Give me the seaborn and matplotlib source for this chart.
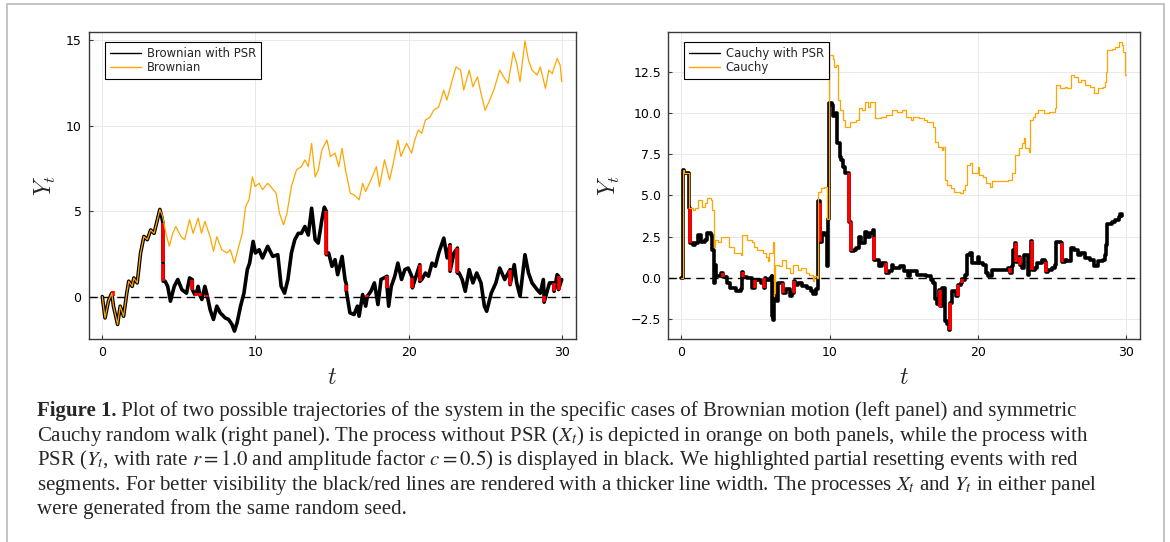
import matplotlib
matplotlib.use("Agg")
import matplotlib.pyplot as plt
import seaborn as sns
import pandas as pd
from matplotlib.lines import Line2D
from matplotlib.patches import Rectangle

# ---------------- data ----------------
# Brownian motion without PSR (orange), (t, X_t)
brownian_free = [
    (0.0, 0.0), (0.18, -1.25), (0.4, -0.27), (0.62, 0.2), (0.73, -0.56), (1.0, -1.63),
    (1.17, -0.56), (1.39, -1.15), (1.6, 0.2), (1.73, 0.9), (1.95, 0.6), (2.06, 1.09),
    (2.28, 0.8), (2.5, 2.55), (2.72, 3.52), (2.94, 3.33), (3.16, 3.9), (3.38, 3.7),
    (3.6, 4.5), (3.76, 5.1), (3.94, 4.7), (4.16, 3.7), (4.38, 2.94), (4.6, 3.7),
    (4.8, 4.1), (5.15, 3.5), (5.38, 3.33), (5.7, 4.5), (5.93, 3.7), (6.26, 4.6),
    (6.48, 3.7), (6.7, 4.4), (7.04, 3.5), (7.26, 2.65), (7.48, 3.5), (7.8, 2.74),
    (8.14, 2.55), (8.36, 2.74), (8.63, 1.96), (8.9, 2.9), (9.14, 3.7), (9.36, 5.27),
    (9.58, 5.66), (9.8, 7.0), (9.98, 6.44), (10.24, 6.63), (10.46, 6.25), (10.8, 6.63),
    (11.0, 6.44), (11.35, 6.05), (11.57, 4.88), (11.84, 4.2), (12.06, 4.88), (12.35, 6.44),
    (12.68, 7.41), (13.0, 7.6), (13.23, 8.0), (13.45, 7.6), (13.67, 8.97), (13.9, 7.0),
    (14.1, 7.4), (14.34, 8.58), (14.67, 9.16), (14.9, 8.2), (15.2, 8.4), (15.44, 7.6),
    (15.66, 8.68), (15.88, 7.4), (16.2, 6.05), (16.44, 5.95), (16.77, 5.66), (17.0, 6.63),
    (17.2, 6.15), (17.54, 6.83), (17.9, 7.6), (18.1, 6.44), (18.43, 8.0), (18.76, 6.83),
    (19.0, 7.8), (19.3, 9.16), (19.5, 8.2), (19.87, 8.97), (20.2, 8.39), (20.4, 9.16),
    (20.64, 9.75), (20.86, 9.55), (21.1, 10.33), (21.4, 10.5), (21.64, 10.9), (21.97, 11.1),
    (22.3, 12.08), (22.5, 11.5), (22.85, 12.67), (23.1, 13.44), (23.4, 13.25), (23.6, 12.08),
    (23.96, 13.25), (24.2, 12.28), (24.5, 12.86), (24.73, 11.89), (25.0, 10.9), (25.3, 11.5),
    (25.6, 12.18), (25.95, 13.25), (26.2, 12.86), (26.5, 12.47), (26.84, 14.32), (27.06, 13.64),
    (27.28, 12.57), (27.6, 14.96), (27.83, 13.83), (28.06, 13.25), (28.4, 12.96), (28.6, 13.44),
    (28.94, 12.18), (29.16, 13.25), (29.38, 13.05), (29.7, 13.93), (29.9, 13.54), (30.0, 12.57),
]

# Brownian motion with PSR (black), (t, Y_t)
brownian_psr = [
    (0.0, 0.0), (0.18, -1.25), (0.4, -0.27), (0.62, 0.2), (0.73, -0.56), (1.0, -1.63),
    (1.17, -0.56), (1.39, -1.15), (1.6, 0.2), (1.73, 0.9), (1.95, 0.6), (2.06, 1.09),
    (2.28, 0.8), (2.5, 2.55), (2.72, 3.52), (2.94, 3.33), (3.16, 3.9), (3.38, 3.7),
    (3.6, 4.5), (3.76, 5.1), (3.9, 4.6), (3.96, 4.3), (3.96, 2.0), (3.98, 1.9),
    (3.98, 0.9), (4.1, 0.9), (4.27, 0.6), (4.45, -0.27), (4.7, 0.6), (4.93, 1.0),
    (5.2, 0.4), (5.5, 0.2), (5.7, 1.09), (5.88, 0.99), (5.88, 0.41), (6.04, 0.12),
    (6.14, 0.2), (6.26, 0.6), (6.36, 0.12), (6.5, -0.17), (6.7, 0.6), (6.86, 0.02),
    (7.04, -0.76), (7.26, -1.34), (7.48, -0.56), (7.7, -0.95), (8.03, -1.25), (8.25, -1.34),
    (8.47, -1.63), (8.63, -2.02), (8.8, -1.54), (9.03, -0.56), (9.25, 0.2), (9.47, 1.58),
    (9.62, 1.96), (9.85, 3.23), (10.0, 2.55), (10.24, 2.74), (10.46, 2.26), (10.8, 2.94),
    (11.13, 2.35), (11.46, 2.45), (11.68, 0.6), (11.9, 0.2), (12.12, 1.0), (12.35, 2.55),
    (12.57, 3.33), (12.8, 3.7), (13.0, 3.7), (13.23, 4.1), (13.45, 3.6), (13.67, 5.17),
    (13.9, 3.33), (14.1, 3.13), (14.34, 4.5), (14.5, 5.23), (14.63, 4.98), (14.63, 2.45),
    (14.78, 2.55), (15.0, 1.77), (15.2, 2.16), (15.37, 1.28), (15.66, 2.35), (15.85, 1.0),
    (15.94, 0.7), (15.94, 0.31), (16.17, -0.95), (16.44, -1.05), (16.66, -0.56), (16.77, -1.15),
    (17.0, 0.12), (17.2, -0.56), (17.31, 0.02), (17.54, 0.31), (17.77, 0.8), (18.0, -0.47),
    (18.2, 1.0), (18.6, 1.19), (18.6, 0.51), (18.7, -0.56), (18.87, 0.6), (19.1, 1.19),
    (19.3, 1.96), (19.54, 1.0), (19.76, 1.58), (19.98, 1.67), (20.25, 1.09), (20.25, 0.51),
    (20.42, 1.0), (20.73, 1.87), (20.73, 0.89), (20.86, 1.0), (21.1, 1.38), (21.3, 1.19),
    (21.53, 1.96), (21.75, 1.77), (21.97, 2.55), (22.3, 3.42), (22.52, 2.26), (22.71, 3.04),
    (22.71, 1.48), (22.96, 2.55), (23.19, 2.84), (23.19, 1.38), (23.3, 1.38), (23.5, 1.0),
    (23.7, 0.31), (23.96, 1.58), (24.2, 0.8), (24.45, 1.38), (24.73, 0.8), (24.95, -0.56),
    (25.1, -0.86), (25.4, 0.2), (25.7, 0.8), (25.95, 1.67), (26.28, 1.0), (26.63, 1.58),
    (26.63, 0.7), (26.9, 1.87), (27.06, 0.8), (27.28, 0.02), (27.6, 2.45), (27.83, 1.38),
    (28.06, 0.8), (28.4, 0.4), (28.6, 0.2), (28.8, 1.0), (28.85, 0.02), (28.85, -0.33),
    (29.2, 0.8), (29.5, 0.8), (29.5, 0.31), (29.7, 1.28), (29.79, 1.19), (29.79, 0.41),
    (30.0, 1.0),
]

# partial resetting events in the Brownian panel (t, before, after)
brownian_resets = [
    (0.7, 0.3, 0.05), (3.96, 4.3, 2.0), (3.98, 1.9, 0.9), (5.88, 0.99, 0.41),
    (6.14, 0.2, 0.05), (6.36, 0.2, 0.05), (6.86, 0.1, -0.05), (14.63, 4.98, 2.45),
    (15.94, 0.7, 0.31), (17.31, 0.1, -0.05), (18.6, 1.19, 0.51), (20.25, 1.09, 0.51),
    (20.73, 1.87, 0.89), (22.71, 3.04, 1.48), (23.19, 2.84, 1.38), (26.63, 1.58, 0.7),
    (28.85, 0.02, -0.33), (29.5, 0.8, 0.31), (29.79, 1.19, 0.41),
]

# Cauchy random walk without PSR (orange), step values (t, X_t)
cauchy_free = [
    (0.0, 0.0), (0.1, 6.55), (0.15, 6.35), (0.53, 4.23), (0.77, 4.13), (0.9, 4.23),
    (1.14, 4.74), (1.38, 4.33), (1.62, 4.54), (1.74, 4.84), (1.98, 4.74), (2.1, 4.13),
    (2.22, 1.9), (2.27, 2.3), (2.45, 2.2), (2.7, 2.5), (3.19, 1.9), (3.55, 1.5),
    (4.03, 1.4), (4.1, 2.6), (4.4, 2.3), (4.75, 2.2), (4.87, 1.9), (5.1, 1.7),
    (5.5, 1.5), (5.7, 1.3), (5.85, 1.0), (5.9, 1.5), (6.18, 2.2), (6.23, -1.1),
    (6.28, -0.9), (6.33, 0.8), (6.57, 0.7), (6.8, 1.1), (7.05, 0.6), (7.3, 0.3),
    (7.53, 0.8), (7.9, 0.5), (8.1, 0.6), (8.4, 0.3), (8.6, 0.2), (8.86, -0.2),
    (8.98, 0.1), (9.18, 0.0), (9.23, 5.24), (9.42, 5.44), (9.6, 5.54), (9.83, 3.6),
    (9.95, 13.5), (10.2, 13.3), (10.27, 12.8), (10.4, 12.9), (10.55, 10.8), (10.68, 10.2),
    (10.87, 9.6), (11.04, 9.17), (11.4, 9.48), (11.76, 9.58), (12.0, 10.28), (12.2, 10.18),
    (12.37, 10.69), (12.6, 10.38), (12.75, 10.69), (13.09, 9.68), (13.45, 9.78), (13.8, 9.88),
    (14.18, 10.18), (14.54, 10.08), (14.9, 10.18), (15.14, 9.78), (15.5, 9.58), (15.63, 9.78),
    (16.0, 9.68), (16.35, 9.58), (16.6, 9.48), (16.96, 9.17), (17.08, 8.27), (17.32, 7.96),
    (17.56, 7.76), (17.68, 7.96), (17.75, 5.95), (17.92, 5.65), (18.16, 5.44), (18.4, 5.24),
    (18.77, 5.18), (19.0, 5.34), (19.13, 5.65), (19.25, 6.85), (19.5, 6.96), (19.6, 6.35),
    (19.98, 6.75), (20.1, 6.25), (20.34, 6.15), (20.58, 5.75), (20.8, 5.54), (20.94, 5.85),
    (21.43, 5.85), (22.03, 5.95), (22.27, 6.35), (22.5, 7.46), (22.75, 7.86), (23.0, 8.17),
    (23.1, 8.47), (23.2, 7.86), (23.43, 7.66), (23.53, 9.58), (23.72, 9.78), (23.85, 9.98),
    (24.08, 10.18), (24.45, 9.98), (24.8, 10.08), (25.17, 10.28), (25.29, 11.69), (25.53, 11.49),
    (25.9, 11.59), (26.0, 11.49), (26.26, 12.3), (26.5, 12.2), (26.74, 11.9), (26.95, 12.0),
    (27.22, 11.69), (27.58, 11.59), (27.83, 11.19), (28.07, 11.49), (28.43, 11.59), (28.55, 11.9),
    (28.67, 12.5), (28.74, 13.81), (29.03, 13.91), (29.27, 14.01), (29.52, 14.31), (29.7, 14.11),
    (29.8, 13.71), (29.95, 12.3), (30.0, 12.3),
]

# Cauchy random walk with PSR (black), step values (t, Y_t)
cauchy_psr = [
    (0.0, 0.0), (0.1, 6.55), (0.15, 6.35), (0.53, 4.23), (0.59, 2.1), (0.77, 2.0),
    (0.9, 2.1), (1.14, 2.6), (1.3, 2.2), (1.62, 2.3), (1.74, 2.7), (1.98, 2.6),
    (2.05, 2.2), (2.1, 1.7), (2.22, -0.3), (2.27, 0.8), (2.35, 0.1), (2.7, 0.32),
    (2.8, 0.08), (3.07, -0.3), (3.3, -0.6), (3.67, -0.8), (4.03, -0.7), (4.1, 0.35),
    (4.17, 0.08), (4.4, 0.0), (4.76, -0.62), (4.98, -0.12), (5.12, -0.1), (5.36, -0.3),
    (5.59, -0.62), (5.62, 0.0), (5.72, -0.1), (5.97, 0.0), (6.1, 0.1), (6.13, -2.3),
    (6.16, -2.55), (6.23, -0.3), (6.33, -0.9), (6.45, -1.4), (6.55, -0.3), (6.87, -0.9),
    (7.05, -0.7), (7.3, -1.1), (7.45, -0.9), (7.57, -0.2), (7.66, -0.4), (7.9, -0.3),
    (8.14, -0.5), (8.5, -0.6), (8.74, -0.8), (8.86, -1.0), (9.1, -0.7), (9.23, 4.64),
    (9.37, 2.2), (9.52, 2.7), (9.7, 2.6), (9.83, 0.7), (9.9, 3.6), (9.95, 10.6),
    (10.14, 10.5), (10.2, 9.8), (10.43, 10.0), (10.5, 8.17), (10.68, 7.36), (10.8, 7.16),
    (10.92, 6.75), (11.04, 6.35), (11.3, 3.41), (11.46, 1.66), (11.64, 1.7), (11.8, 1.8),
    (12.0, 2.5), (12.1, 2.1), (12.37, 2.8), (12.55, 2.5), (12.7, 2.7), (12.9, 2.9),
    (12.97, 2.46), (13.0, 1.09), (13.09, 1.1), (13.33, 0.7), (13.5, 0.9), (13.83, 0.32),
    (14.0, 0.4), (14.18, 0.8), (14.3, 0.6), (14.78, 0.7), (15.0, 0.4), (15.27, 0.1),
    (15.4, 0.4), (15.75, 0.4), (15.9, 0.2), (16.35, 0.2), (16.5, 0.1), (16.84, -0.1),
    (16.95, -0.3), (17.08, -1.3), (17.25, -1.6), (17.35, -0.73), (17.43, -1.7), (17.6, -0.6),
    (17.75, -2.6), (17.9, -2.8), (18.05, -3.15), (18.1, -1.5), (18.25, -0.8), (18.5, -1.1),
    (18.65, -0.4), (18.85, -0.3), (18.9, -0.05), (19.0, -0.1), (19.13, 0.2), (19.25, 1.4),
    (19.5, 1.5), (19.6, 0.9), (19.98, 1.3), (20.1, 0.9), (20.34, 0.8), (20.58, 0.3),
    (20.7, 0.1), (20.94, 0.5), (21.43, 0.5), (22.03, 0.6), (22.18, 0.28), (22.27, 0.7),
    (22.4, 1.7), (22.5, 2.1), (22.59, 0.99), (22.7, 1.0), (22.76, 1.29), (22.86, 0.79),
    (23.0, 0.6), (23.1, 1.4), (23.36, 0.2), (23.45, 0.6), (23.55, 2.26), (23.65, 0.48),
    (23.85, 0.6), (24.0, 0.9), (24.3, 1.1), (24.5, 0.99), (24.62, 0.38), (24.75, 0.5),
    (25.0, 0.6), (25.2, 0.8), (25.29, 2.2), (25.6, 2.1), (25.68, 0.99), (25.9, 1.1),
    (26.0, 1.0), (26.26, 1.8), (26.5, 1.7), (26.74, 1.4), (26.95, 1.5), (27.22, 1.2),
    (27.58, 1.1), (27.83, 0.7), (28.07, 1.0), (28.43, 1.1), (28.55, 1.4), (28.67, 2.0),
    (28.74, 3.3), (29.03, 3.4), (29.27, 3.5), (29.52, 3.7), (29.6, 3.9), (29.75, 3.75),
]

# partial resetting events in the Cauchy panel (t, before, after)
cauchy_resets = [
    (0.59, 4.22, 2.1), (2.8, 0.32, 0.08), (4.17, 0.35, 0.08), (4.98, -0.62, -0.12),
    (5.59, -0.62, 0.0), (6.87, -0.3, -0.9), (7.57, -0.9, -0.2), (9.37, 4.52, 2.2),
    (11.3, 6.35, 3.41), (11.46, 3.41, 1.66), (13.0, 2.46, 1.09), (13.83, 0.89, 0.32),
    (17.43, -0.73, -1.74), (18.1, -3.15, -1.5), (18.65, -1.1, -0.4), (18.9, -0.3, -0.05),
    (22.18, 0.6, 0.28), (22.59, 2.1, 0.99), (22.86, 1.29, 0.79), (23.65, 2.26, 0.48),
    (24.62, 0.99, 0.38), (25.68, 2.1, 0.99),
]

x_ticks = [0, 10, 20, 30]
left_y_ticks = [0, 5, 10, 15]
right_y_ticks = [-2.5, 0.0, 2.5, 5.0, 7.5, 10.0, 12.5]
left_labels = ["Brownian with PSR", "Brownian"]
right_labels = ["Cauchy with PSR", "Cauchy"]

caption_bold = "Figure 1."
caption_lines = [
    " Plot of two possible trajectories of the system in the specific cases of Brownian motion (left panel) and symmetric",
    "Cauchy random walk (right panel). The process without PSR ($X_t$) is depicted in orange on both panels, while the process with",
    "PSR ($Y_t$, with rate $r = 1.0$ and amplitude factor $c = 0.5$) is displayed in black. We highlighted partial resetting events with red",
    "segments. For better visibility the black/red lines are rendered with a thicker line width. The processes $X_t$ and $Y_t$ in either panel",
    "were generated from the same random seed.",
]

# ---------------- styling ----------------
sns.set_theme(style="white")
plt.rcParams["font.family"] = ["DejaVu Sans"]
plt.rcParams["mathtext.fontset"] = "cm"

W, H = 1170, 542
fig = plt.figure(figsize=(W / 100, H / 100), dpi=100)
fig.patch.set_facecolor("white")

ax_bottom = (H - 339.3) / H
ax_height = 307.6 / H
axL = fig.add_axes([88.5 / W, ax_bottom, 487 / W, ax_height])
axR = fig.add_axes([668 / W, ax_bottom, 471.5 / W, ax_height])

ORANGE = "#FFA500"


def to_df(pts):
    return pd.DataFrame(pts, columns=["t", "y"])


def draw_panel(ax, free, psr, resets, labels, ylim, yticks, step, ylab_x):
    ax.axhline(0, color="black", lw=1.0, ls=(0, (6, 4)), zorder=1)
    kw = {"drawstyle": "steps-post"} if step else {}
    dpsr = to_df(psr)
    dfree = to_df(free)
    sns.lineplot(data=dpsr, x="t", y="y", ax=ax, color="black", lw=2.6,
                 estimator=None, sort=False, zorder=3, **kw)
    dres = pd.DataFrame(resets, columns=["t", "a", "b"])
    ax.vlines(dres["t"], dres["a"], dres["b"], colors="red", lw=2.6, zorder=4)
    sns.lineplot(data=dfree, x="t", y="y", ax=ax, color=ORANGE, lw=0.9,
                 estimator=None, sort=False, zorder=5, **kw)

    ax.set_xlim(-0.9, 30.9)
    ax.set_ylim(*ylim)
    ax.set_xticks(x_ticks)
    ax.set_yticks(yticks)
    ax.grid(True, color="#e6e6e6", lw=0.6)
    ax.set_axisbelow(True)
    for s in ax.spines.values():
        s.set_color("#3a3a3a")
        s.set_linewidth(1.0)
    ax.tick_params(axis="both", direction="in", length=3, width=0.8,
                   colors="#3a3a3a", labelcolor="black", labelsize=9, pad=5,
                   bottom=True, left=True, top=False, right=False)
    ax.set_xlabel(r"$t$", fontsize=17)
    ax.set_ylabel(r"$Y_t$", fontsize=17)
    ax.xaxis.set_label_coords(0.5, -0.085)
    ax.yaxis.set_label_coords(ylab_x, 0.5)

    handles = [Line2D([0], [0], color="black", lw=1.0),
               Line2D([0], [0], color=ORANGE, lw=1.0)]
    leg = ax.legend(handles, labels, loc="upper left",
                    bbox_to_anchor=(0.034, 0.9665), borderaxespad=0,
                    fontsize=8.4, frameon=True, fancybox=False, framealpha=1,
                    edgecolor="black", handlelength=2.7, handletextpad=0.45,
                    borderpad=0.42, labelspacing=0.1)
    leg.get_frame().set_linewidth(0.8)


draw_panel(axL, brownian_free, brownian_psr, brownian_resets, left_labels,
           (-2.5, 15.5), left_y_ticks, False, -0.063)
draw_panel(axR, cauchy_free, cauchy_psr, cauchy_resets, right_labels,
           (-3.72, 14.93), right_y_ticks, True, -0.098)

# ---------------- caption ----------------
fig.canvas.draw()
renderer = fig.canvas.get_renderer()
cap_fs = 15.0
serif = ["Liberation Serif", "DejaVu Serif"]
baselines = [416, 440.6, 465.2, 489.8, 514.4]
x0 = 37
tb = fig.text(x0 / W, 1 - baselines[0] / H, caption_bold, family=serif,
              fontweight="bold", fontsize=cap_fs, va="baseline", ha="left")
bb = tb.get_window_extent(renderer)
fig.text(bb.x1 / W, 1 - baselines[0] / H, caption_lines[0], family=serif,
         fontsize=cap_fs, va="baseline", ha="left", math_fontfamily="stix")
for line, yb in zip(caption_lines[1:], baselines[1:]):
    fig.text(x0 / W, 1 - yb / H, line, family=serif, fontsize=cap_fs,
             va="baseline", ha="left", math_fontfamily="stix")

# light frame around the figure
fig.patches.append(Rectangle((7 / W, -0.05), (1164 - 7) / W, (H - 4) / H + 0.05,
                             transform=fig.transFigure, fill=False,
                             edgecolor="#c4c4c4", lw=1.4, clip_on=False))

fig.savefig("out.png", dpi=100)
